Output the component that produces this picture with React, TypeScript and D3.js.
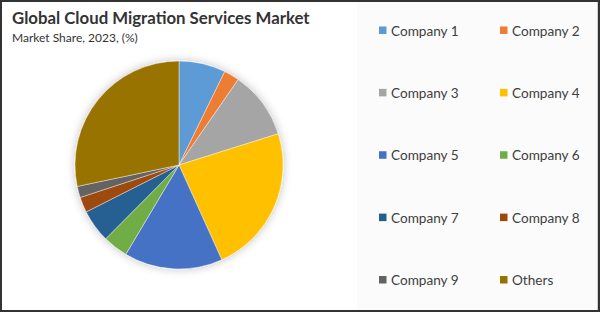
import React from "react";
import * as d3 from "d3";

const categories = ["Company 1", "Company 2", "Company 3", "Company 4", "Company 5", "Company 6", "Company 7", "Company 8", "Company 9", "Others"];
const shares = [7.25, 2.4, 10.5, 23.1, 15.3, 3.9, 5.1, 2.4, 1.75, 28.3];
const colors = ["#5B9BD5", "#ED7D31", "#A5A5A5", "#FFC000", "#4472C4", "#70AD47", "#255E91", "#9E480E", "#636363", "#997300"];
const title = "Global Cloud Migration Services Market";
const subtitle = "Market Share, 2023, (%)";

export default function App() {
  const W = 600, H = 312;
  const cx = 179, cy = 165, r = 104;
  const pie = d3.pie<number>().sort(null).value((d) => d);
  const arcs = pie(shares);
  const arc = d3.arc<d3.PieArcDatum<number>>().innerRadius(0).outerRadius(r);
  const colX = d3.scalePoint<number>().domain([0, 1]).range([379, 500]);
  const rowY = d3.scaleLinear().domain([0, 4]).range([30.5, 280]);
  const font = "Lato, 'Open Sans', sans-serif";
  return (
    <div style={{ position: "fixed", left: 0, top: 0, width: W, height: H }}>
      <svg width={W} height={H} style={{ display: "block" }}>
        <defs>
          <filter id="glow" x="-20%" y="-20%" width="140%" height="140%">
            <feGaussianBlur in="SourceAlpha" stdDeviation="5" />
            <feComponentTransfer>
              <feFuncA type="linear" slope="0.25" />
            </feComponentTransfer>
            <feMerge>
              <feMergeNode />
              <feMergeNode in="SourceGraphic" />
            </feMerge>
          </filter>
        </defs>
        <rect x={0} y={0} width={W} height={H} fill="#ffffff" />
        <rect x={357} y={2} width={240} height={H - 4} fill="#fbfbfb" />
        <line x1={597.5} y1={2} x2={597.5} y2={H - 2} stroke="#d0d0d0" strokeWidth={1} />
        <text x={12} y={23.5} fontFamily={font} fontWeight={700} fontSize={16.8} fill="#333333">{title}</text>
        <text x={12} y={41.5} fontFamily={font} fontSize={12} fill="#333333">{subtitle}</text>
        <g transform={`translate(${cx},${cy})`} filter="url(#glow)">
          {arcs.map((a, i) => (
            <path key={categories[i]} d={arc(a) || ""} fill={colors[i]} stroke="#ffffff" strokeWidth={0.6} strokeOpacity={0.7} />
          ))}
        </g>
        {categories.map((c, i) => {
          const col = i % 2;
          const row = Math.floor(i / 2);
          const x = colX(col) as number;
          const y = rowY(row);
          return (
            <g key={c}>
              <rect x={x} y={y - 4} width={7.5} height={7.5} fill={colors[i]} />
              <text x={x + 12} y={y} dominantBaseline="central" fontFamily={font} fontSize={13.6} fill="#404040">{c}</text>
            </g>
          );
        })}
        <rect x={1} y={1} width={W - 2} height={H - 2} fill="none" stroke="#333333" strokeWidth={2} />
      </svg>
    </div>
  );
}
